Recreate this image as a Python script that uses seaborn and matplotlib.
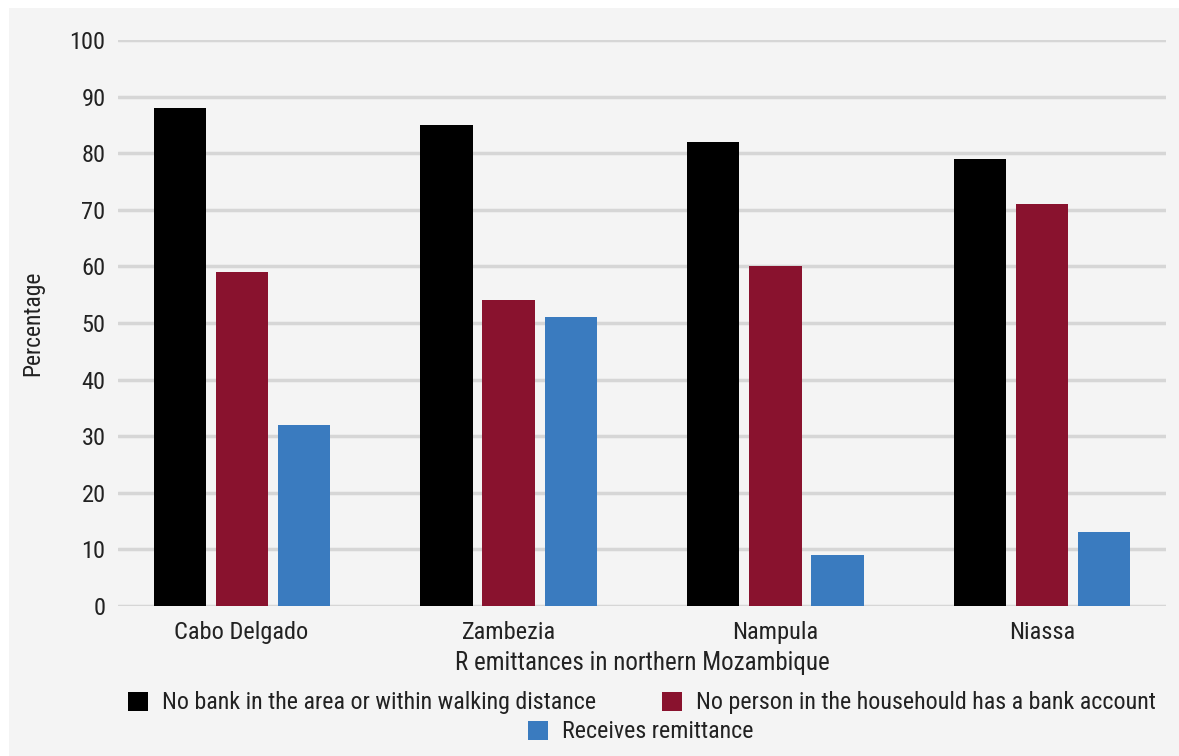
import matplotlib
matplotlib.use("Agg")
import matplotlib.pyplot as plt
from matplotlib import font_manager
from matplotlib.patches import Patch, Rectangle
import seaborn as sns
import pandas as pd

# ---- data ----
regions = ["Cabo Delgado", "Zambezia", "Nampula", "Niassa"]
series = [
    "No bank in the area or within walking distance",
    "No person in the househould has a bank account",
    "Receives remittance",
]
no_bank_nearby = [88, 85, 82, 79]
no_bank_account = [59, 54, 60, 71]
receives_remittance = [32, 51, 9, 13]
y_ticks = [0, 10, 20, 30, 40, 50, 60, 70, 80, 90, 100]
x_label = "R emittances in northern Mozambique"
y_label = "Percentage"

colors = ["#000000", "#89122e", "#3a7bbf"]

df = pd.DataFrame({
    "region": regions * 3,
    "series": [series[0]] * 4 + [series[1]] * 4 + [series[2]] * 4,
    "value": no_bank_nearby + no_bank_account + receives_remittance,
})

sns.set_theme(style="white")

# choose a condensed font if available
font = "DejaVu Sans"
for cand in ["Liberation Sans Narrow", "Roboto Condensed", "DejaVu Sans Condensed",
             "Open Sans Condensed", "Roboto", "Liberation Sans"]:
    try:
        font_manager.findfont(cand, fallback_to_default=False)
        font = cand
        break
    except Exception:
        pass
plt.rcParams["font.family"] = [font, "DejaVu Sans"]

W, H = 1179, 756
fig = plt.figure(figsize=(W / 100, H / 100), dpi=100)
fig.patch.set_facecolor("white")
bg = Rectangle((9 / W, 0), 1 - 9 / W, 1 - 8 / H, transform=fig.transFigure,
               facecolor="#f4f4f4", edgecolor="none", zorder=-10)
fig.patches.append(bg)

ax = fig.add_axes([118 / W, 1 - 606 / H, (1166 - 118) / W, (606 - 40) / H])
ax.set_facecolor("#f4f4f4")
ax.patch.set_alpha(0)

sns.barplot(data=df, x="region", y="value", hue="series", order=regions,
            hue_order=series, palette=colors, width=0.697, gap=0.16,
            saturation=1, ax=ax, legend=False, zorder=3, linewidth=0)

ax.set_ylim(0, 100)
ax.set_xlim(-0.463, 3.463)
ax.set_yticks(y_ticks)
ax.set_yticklabels([str(t) for t in y_ticks])
ax.yaxis.grid(True, color="#d6d6d6", linewidth=2.5, zorder=0)
ax.set_axisbelow(True)
for s in ax.spines.values():
    s.set_visible(False)
ax.tick_params(axis="both", length=0, labelsize=17.6, labelcolor="#222222")
ax.tick_params(axis="y", pad=9)
ax.tick_params(axis="x", pad=11)
ax.set_xlabel(x_label, fontsize=18, color="#222222", labelpad=5)
ax.set_ylabel(y_label, fontsize=17, color="#222222", labelpad=18)

handles = [Patch(facecolor=c, edgecolor="none") for c in colors]
common = dict(frameon=False, fontsize=17.3, handlelength=0.83, handleheight=0.83,
              handletextpad=0.58, borderpad=0, labelcolor="#222222")
leg1 = fig.legend(handles[:2], series[:2], loc="center", ncol=2,
                  bbox_to_anchor=(642 / W, 1 - 703 / H), columnspacing=2.75, **common)
leg2 = fig.legend(handles[2:], series[2:], loc="center",
                  bbox_to_anchor=(641 / W, 1 - 732 / H), **common)

fig.savefig("out.png", dpi=100, facecolor=fig.get_facecolor())
